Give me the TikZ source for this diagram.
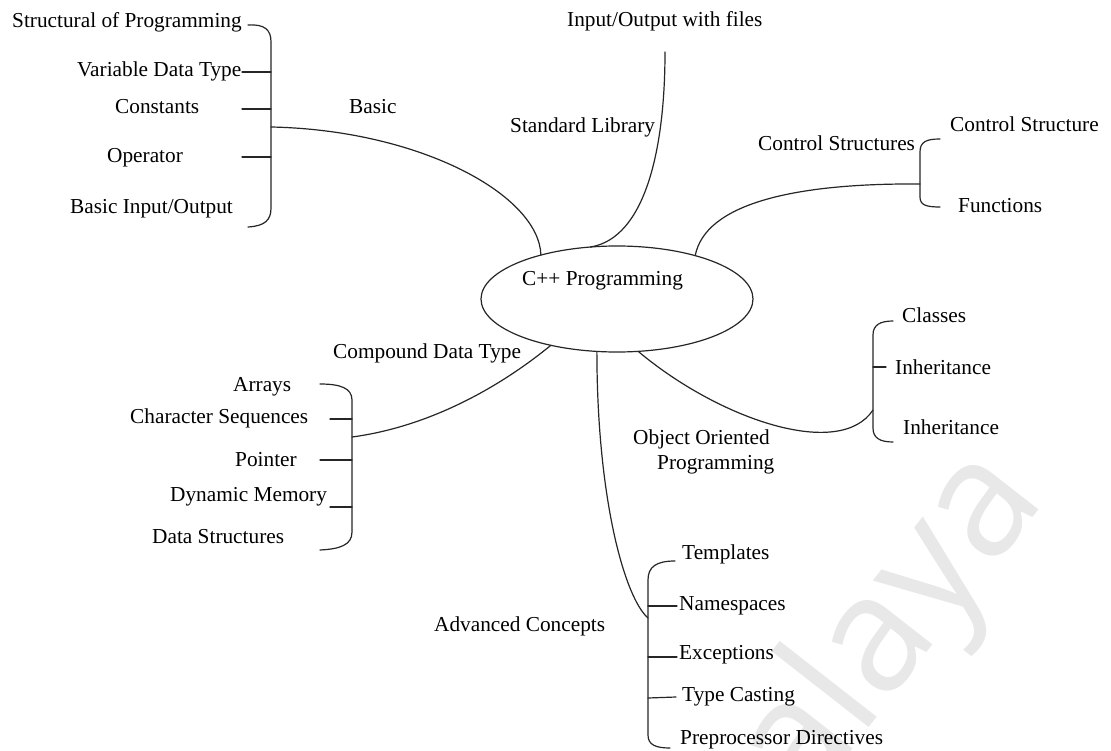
\documentclass[tikz,border=0pt]{standalone}
\usepackage{fontspec}
\setmainfont{Liberation Serif}
\newfontfamily\wmfont{Open Sans}
\usetikzlibrary{shapes.geometric}
\begin{document}
\begin{tikzpicture}[x=1pt,y=-1pt,
  lbl/.style={anchor=base west, inner sep=0pt, font=\fontsize{21.3}{25}\selectfont},
  wire/.style={line width=1.2pt, draw=black!85, line cap=round},
  brace/.style={line width=1.2pt, draw=black!85, line cap=round}]
\useasboundingbox (0,0) rectangle (1111,751);
\fill[white] (0,0) rectangle (1111,751);

% faint watermark
\begin{scope}
\clip (0,0) rectangle (1111,751);
\node[rotate=52, text=black!9, font=\wmfont\fontsize{162}{162}\selectfont, inner sep=0pt] (wm) at (848,686) {Malaya};
\end{scope}

% central topic
\node[ellipse, draw, line width=1.2pt, draw=black!85, minimum width=272, minimum height=106, inner sep=0pt, outer sep=0pt] (cpp) at (617,299) {};
\node[lbl] (cpptxt) at (522,286) {C++ Programming};

% ---- Basic ----
\node[lbl] (basic) at (349,114) {Basic};
\node[lbl] (b1) at (12,28) {Structural of Programming};
\node[lbl] (b2) at (77,77) {Variable Data Type};
\node[lbl] (b3) at (115,114) {Constants};
\node[lbl] (b4) at (107,163) {Operator};
\node[lbl] (b5) at (70,214) {Basic Input/Output};
\coordinate (bhub) at (271,127);
\draw[brace] (248,25) .. controls (265,24) and (271,30) .. (271,42) -- (271,208) .. controls (271,220) and (265,226) .. (248,227);
\draw[brace] (242,72) -- (271,72);
\draw[brace] (242,109) -- (271,109);
\draw[brace] (242,157) -- (271,157);
\draw[wire] (cpp.150.3) .. controls (539,195) and (420,130) .. (bhub);

% ---- Standard Library ----
\node[lbl] (stdlib) at (510,133) {Standard Library};
\node[lbl] (iofiles) at (567,27) {Input/Output with files};
\coordinate (ioend) at (665,52);
\draw[wire] (cpp.117) .. controls (645,238) and (665,150) .. (ioend);

% ---- Control Structures ----
\node[lbl] (ctrl) at (758,151) {Control Structures};
\node[lbl] (c1) at (950,132) {Control Structure};
\node[lbl] (c2) at (958,213) {Functions};
\coordinate (chub) at (920,184);
\draw[brace] (940,139) .. controls (926,139) and (920,142) .. (920,152) -- (920,197) .. controls (920,205) and (926,207) .. (940,207);
\draw[wire] (cpp.29.4) .. controls (705,205) and (790,183) .. (chub);

% ---- Compound Data Type ----
\node[lbl] (cmp) at (333,358) {Compound Data Type};
\node[lbl] (d1) at (233,391) {Arrays};
\node[lbl] (d2) at (130,423) {Character Sequences};
\node[lbl] (d3) at (235,466) {Pointer};
\node[lbl] (d4) at (170,501) {Dynamic Memory};
\node[lbl] (d5) at (152,543) {Data Structures};
\coordinate (dhub) at (352,437);
\draw[brace] (320,384) .. controls (340,384) and (352,388) .. (352,400) -- (352,532) .. controls (352,545) and (340,549) .. (320,550);
\draw[brace] (330,419) -- (352,419);
\draw[brace] (320,460) -- (352,460);
\draw[brace] (330,507) -- (352,507);
\draw[wire] (cpp.215.3) .. controls (490,395) and (420,428) .. (dhub);

% ---- Object Oriented Programming ----
\node[lbl, align=left] (oop) at (633,469) {Object Oriented\\\hspace*{24pt}Programming};
\node[lbl] (o1) at (902,323) {Classes};
\node[lbl] (o2) at (895,374) {Inheritance};
\node[lbl] (o3) at (903,434) {Inheritance};
\coordinate (ohub) at (873,410);
\draw[brace] (893,321) .. controls (880,321) and (873,325) .. (873,335) -- (873,428) .. controls (873,438) and (880,442) .. (893,442);
\draw[brace] (873,367) -- (886,367);
\draw[wire] (cpp.292) .. controls (720,420) and (840,460) .. (ohub);

% ---- Advanced Concepts ----
\node[lbl] (adv) at (434,631) {Advanced Concepts};
\node[lbl] (a1) at (682,559) {Templates};
\node[lbl] (a2) at (679,610) {Namespaces};
\node[lbl] (a3) at (679,659) {Exceptions};
\node[lbl] (a4) at (682,701) {Type Casting};
\node[lbl] (a5) at (680,744) {Preprocessor Directives};
\coordinate (ahub) at (648,618);
\draw[brace] (675,561) .. controls (656,561) and (648,567) .. (648,580) -- (648,735) .. controls (648,745) and (656,748) .. (670,748);
\draw[brace] (648,606) -- (677,606);
\draw[brace] (648,657) -- (677,657);
\draw[brace] (648,698) -- (676,697);
\draw[wire] (cpp.249.3) .. controls (597,500) and (625,598) .. (ahub);
\end{tikzpicture}
\end{document}
